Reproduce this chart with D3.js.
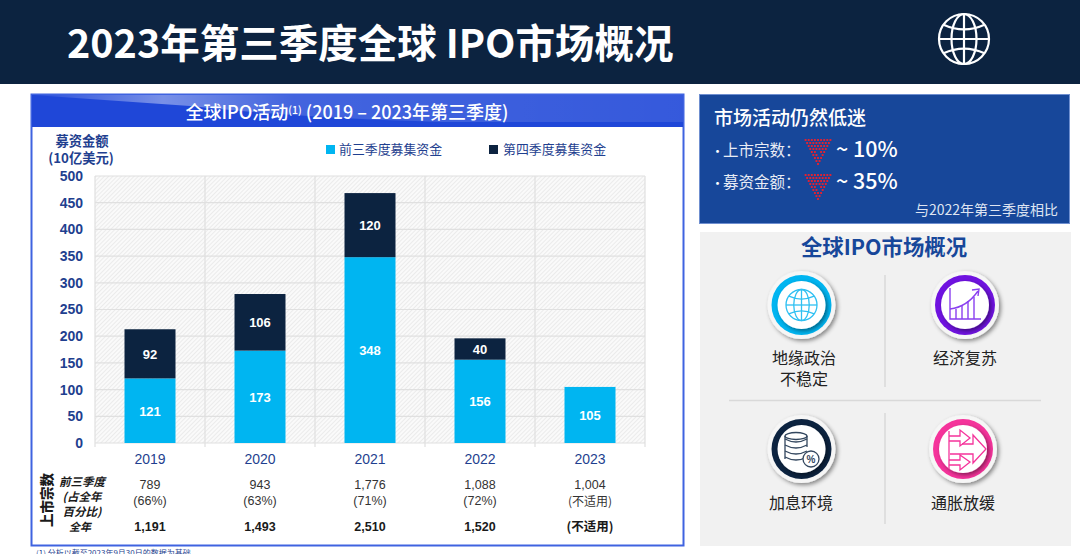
<!DOCTYPE html>
<html><head><meta charset="utf-8">
<script src="https://cdn.jsdelivr.net/npm/d3@7/dist/d3.min.js"></script>
<style>html,body{margin:0;padding:0;background:#fff;overflow:hidden}svg{display:block}</style>
</head><body><svg id="c" width="1080" height="554"></svg>
<script>
const years=["2019","2020","2021","2022","2023"];
const q3Values=[121,173,348,156,105];
const q4Values=[92,106,120,40,0];
const yTicks=[0,50,100,150,200,250,300,350,400,450,500];
const dealsQ3=["789","943","1,776","1,088","1,004"];
const dealsShare=["(66%)","(63%)","(71%)","(72%)","(不适用)"];
const dealsYear=["1,191","1,493","2,510","1,520","(不适用)"];
const legendLabels=["前三季度募集资金","第四季度募集资金"];
const rowLabels=["前三季度","(占全年","百分比)","全年"];
const colors={q3:"#00b5f1",q4:"#0c2340",blue:"#1f47d8",panel:"#17479a",axis:"#1f3f8f"};
const cjk="'Noto Sans CJK SC','Noto Sans',sans-serif", lat="'Liberation Sans',Arial,sans-serif";
const svg=d3.select("#c");
const defs=svg.append("defs");
const hp=defs.append("pattern").attr("id","hatch").attr("width",3).attr("height",3).attr("patternUnits","userSpaceOnUse").attr("patternTransform","rotate(45)");
hp.append("rect").attr("width",3).attr("height",3).attr("fill","#fafafa");
hp.append("line").attr("x1",0).attr("x2",0).attr("y1",0).attr("y2",3).attr("stroke","#dcdcdc").attr("stroke-width",1);
const grad=defs.append("linearGradient").attr("id","sheen").attr("gradientUnits","userSpaceOnUse").attr("x1",33).attr("x2",683).attr("y1",0).attr("y2",0);
[[0,.05],[.2,.4],[.4,.16],[1,.1]].forEach(s=>grad.append("stop").attr("offset",s[0]).attr("stop-color","#fff").attr("stop-opacity",s[1]));
const sh=defs.append("filter").attr("id","sh").attr("x","-30%").attr("y","-30%").attr("width","170%").attr("height","170%");
sh.append("feDropShadow").attr("dx",2).attr("dy",2).attr("stdDeviation",2).attr("flood-color","#000").attr("flood-opacity",.45);
function T(x,y,s,size,fill,o={}){const t=svg.append("text").attr("x",x).attr("y",y).attr("font-size",size).attr("fill",fill).attr("font-family",o.f||cjk).attr("font-weight",o.w||400).attr("text-anchor",o.a||"middle").text(s);if(o.i)t.attr("font-style","italic");if(o.tr)t.attr("transform",o.tr);return t;}

svg.append("rect").attr("width",1080).attr("height",84).attr("fill","#0c2340");
T(67,58,"2023年第三季度全球 IPO市场概况",39.5,"#fff",{a:"start",w:700});
function globe(g,cx,cy,r,col,w){
 g.append("circle").attr("cx",cx).attr("cy",cy).attr("r",r);
 g.append("ellipse").attr("cx",cx).attr("cy",cy).attr("rx",r*.5).attr("ry",r);
 g.append("line").attr("x1",cx).attr("x2",cx).attr("y1",cy-r).attr("y2",cy+r);
 g.append("line").attr("x1",cx-r).attr("x2",cx+r).attr("y1",cy).attr("y2",cy);
 g.append("path").attr("d",`M${cx-r*.82} ${cy-r*.57}Q${cx} ${cy-r*.2} ${cx+r*.82} ${cy-r*.57}`);
 g.append("path").attr("d",`M${cx-r*.82} ${cy+r*.57}Q${cx} ${cy+r*.2} ${cx+r*.82} ${cy+r*.57}`);
 g.attr("fill","none").attr("stroke",col).attr("stroke-width",w);
}
globe(svg.append("g"),964,39,25,"#fff",2.2);

// left panel
svg.append("rect").attr("x",31.5).attr("y",94.5).attr("width",652).attr("height",451).attr("fill","#fff").attr("stroke","#3f63e0").attr("stroke-width",2);
svg.append("rect").attr("x",32).attr("y",95).attr("width",651).attr("height",32).attr("fill",colors.blue);
svg.append("path").attr("d","M33 95H683V122H440Q300 118 190 106Z").attr("fill","url(#sheen)");
const titleT=T(347,119,"",18,"#fff",{w:500});
titleT.append("tspan").text("全球IPO活动");
titleT.append("tspan").attr("font-size",10.5).attr("dy",-5).text("(1)");
titleT.append("tspan").attr("dy",5).text(" (2019 – 2023年第三季度)");

const x=d3.scaleBand().domain(years).range([95,645]);
const y=d3.scaleLinear().domain([0,500]).range([443,176]);
const barW=51;
svg.append("rect").attr("x",95).attr("y",176).attr("width",550).attr("height",267).attr("fill","url(#hatch)");
const grid=svg.append("g").attr("stroke","#e0e0e0").attr("stroke-width",1.2);
yTicks.forEach(t=>grid.append("line").attr("x1",95).attr("x2",645).attr("y1",y(t)).attr("y2",y(t)));
years.forEach(d=>grid.append("line").attr("x1",x(d)).attr("x2",x(d)).attr("y1",176).attr("y2",447));
grid.append("line").attr("x1",645).attr("x2",645).attr("y1",176).attr("y2",447);

const ya=svg.append("g").attr("transform","translate(95,0)").call(d3.axisLeft(y).tickValues(yTicks).tickSize(0).tickPadding(12));
ya.select(".domain").remove();
ya.selectAll("text").attr("font-size",14).attr("font-weight",700).attr("font-family",lat).attr("fill",colors.axis);
const xa=svg.append("g").attr("transform","translate(0,443)").call(d3.axisBottom(x).tickSize(0).tickPadding(11));
xa.select(".domain").remove();
xa.selectAll("text").attr("font-size",14).attr("font-family",lat).attr("fill",colors.axis);

const cx=d=>x(d)+x.bandwidth()/2;
years.forEach((d,i)=>{
 const a=q3Values[i],b=q4Values[i];
 svg.append("rect").attr("x",cx(d)-barW/2).attr("width",barW).attr("y",y(a)).attr("height",y(0)-y(a)).attr("fill",colors.q3);
 T(cx(d),(y(a)+y(0))/2+5,String(a),13,"#fff",{f:lat,w:700});
 if(b>0){
  svg.append("rect").attr("x",cx(d)-barW/2).attr("width",barW).attr("y",y(a+b)).attr("height",y(a)-y(a+b)).attr("fill",colors.q4);
  T(cx(d),(y(a+b)+y(a))/2+5,String(b),13,"#fff",{f:lat,w:700});
 }
 T(cx(d),489,dealsQ3[i],12.5,"#333",{f:lat});
 T(cx(d),i==4?506:505,dealsShare[i],i==4?12:12.5,"#333",{f:i==4?cjk:lat});
 T(cx(d),531,dealsYear[i],12.5,"#1a1a1a",{f:i==4?cjk:lat,w:700});
});
T(82,146,"募资金额",13.3,colors.axis,{w:700});
T(81,163,"(10亿美元)",13.3,colors.axis,{w:700});
svg.append("rect").attr("x",326).attr("y",145).attr("width",9).attr("height",9).attr("fill",colors.q3);
T(339,154,legendLabels[0],12.9,colors.axis,{a:"start"});
svg.append("rect").attr("x",489).attr("y",145).attr("width",9).attr("height",9).attr("fill",colors.q4);
T(503,154,legendLabels[1],12.9,colors.axis,{a:"start"});
T(52,500,"上市宗数",13.5,"#1a1a1a",{w:900,tr:"rotate(-90 52 500)"});
[486,501,516].forEach((yy,i)=>T(82,yy,rowLabels[i],11.5,"#1a1a1a",{w:700,i:1}));
T(80,531,rowLabels[3],11,"#1a1a1a",{w:700,i:1});
T(36,556,"(1) 分析以截至2023年9月30日的数据为基础",8,"#1f3f8f",{a:"start"});

// right top panel
svg.append("rect").attr("x",699.5).attr("y",94.5).attr("width",370).attr("height",129).attr("fill",colors.panel).attr("stroke","#6f8fd0");
T(714,125,"市场活动仍然低迷",19,"#fff",{a:"start",w:500});
T(711,156,"•",13,"#fff",{a:"start"});
T(723,156,"上市宗数：",15.5,"#e8ecf5",{a:"start"});
T(711,188,"•",13,"#fff",{a:"start"});
T(723,188,"募资金额：",15.5,"#e8ecf5",{a:"start"});
T(836,157,"~ 10%",21.5,"#fff",{a:"start",w:500});
T(836,189,"~ 35%",21.5,"#fff",{a:"start",w:500});
T(1058,215,"与2022年第三季度相比",14,"#dfe5f2",{a:"end"});
function dots(cx0,y0){
 const g=svg.append("g").attr("fill","#e8212e");
 d3.range(9).forEach(r=>{
  const n=9-r;
  d3.range(n).forEach(k=>{
   if(r==3&&k>2&&k<n-3)return;
   if(r==4&&k>1&&k<n-2)return;
   if(r==5&&k==2)return;
   g.append("rect").attr("x",cx0+(k-(n-1)/2)*3.1-.95).attr("y",y0+r*3-.95).attr("width",1.9).attr("height",1.9);
  });
 });
}
dots(818,140);dots(818,175);

// right lower panel
svg.append("rect").attr("x",700).attr("y",232).attr("width",371).attr("height",314).attr("fill","#f1f1f1");
T(884,255,"全球IPO市场概况",21.4,"#17479a",{w:700});
svg.append("line").attr("x1",885).attr("x2",885).attr("y1",275).attr("y2",387).attr("stroke","#d9d9d9").attr("stroke-width",1.5);
svg.append("line").attr("x1",885).attr("x2",885).attr("y1",413).attr("y2",524).attr("stroke","#d9d9d9").attr("stroke-width",1.5);
svg.append("line").attr("x1",729).attr("x2",1041).attr("y1",400.5).attr("y2",400.5).attr("stroke","#d9d9d9").attr("stroke-width",1.5);
function badge(cx0,cy0,col){
 const g=svg.append("g");
 g.append("circle").attr("cx",cx0).attr("cy",cy0).attr("r",34).attr("fill","#f6f6f6").attr("filter","url(#sh)");
 g.append("circle").attr("cx",cx0).attr("cy",cy0).attr("r",30).attr("fill",col);
 g.append("circle").attr("cx",cx0).attr("cy",cy0).attr("r",24).attr("fill","#fff").attr("filter","url(#sh)");
}
badge(801.5,305,"#00b5f1");
badge(965,305,"#6f12e0");
badge(801.5,449,"#0c2340");
badge(963,449,"#f5339b");
globe(svg.append("g"),801.5,305,15.5,"#2fc0f2",1.3);
// chart icon
const ci=svg.append("g").attr("fill","none").attr("stroke","#8a3ff0").attr("stroke-width",1.4);
ci.append("path").attr("d","M950 288V319H981");
[956,962,968,974].forEach((xx,i)=>ci.append("path").attr("d",`M${xx} 319V${309-i*4}`));
ci.append("path").attr("d","M950 309Q967 307 978 291M972 290L979 289L978 296");
// coins icon
const co=svg.append("g").attr("fill","none").attr("stroke","#33475f").attr("stroke-width",1.3);
co.append("ellipse").attr("cx",796).attr("cy",436).attr("rx",11).attr("ry",3.5);
[442,448,454,460].forEach(yy=>co.append("path").attr("d",`M785 ${yy-3}Q796 ${yy+3} 807 ${yy-3}`));
co.append("path").attr("d","M785 436V459M807 436V447");
co.append("circle").attr("cx",811).attr("cy",459).attr("r",8).attr("fill","#fff");
T(811,463,"%",10,"#33475f",{f:lat,w:700});
// arrows icon
const ar=svg.append("g").attr("fill","none").attr("stroke","#f5339b").attr("stroke-width",1.3);
ar.append("path").attr("d","M949 431V469");
ar.append("path").attr("d","M949 436H960V430L970 438L960 446V441H949");
ar.append("path").attr("d","M949 460H960V455L970 462L960 470V465H949");
ar.append("path").attr("d","M962 444H973V435L986 449L973 463V454H950");
T(804,364,"地缘政治",16,"#222");
T(804,385,"不稳定",16,"#222");
T(965,364,"经济复苏",16,"#222");
T(801,509,"加息环境",16,"#222");
T(963,509,"通胀放缓",16,"#222");
</script></body></html>
